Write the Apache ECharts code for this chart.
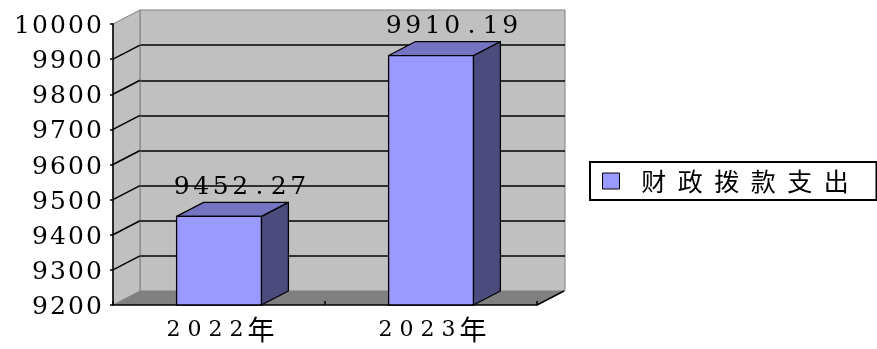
<!DOCTYPE html>
<html>
<head>
<meta charset="utf-8">
<script src="https://cdn.jsdelivr.net/npm/echarts@6/dist/echarts.min.js"></script>
<style>
  html, body { margin: 0; padding: 0; background: #fff; }
  #chart { width: 877px; height: 349px; }
</style>
</head>
<body>
<div id="chart"></div>
<script>
// ---- data ----
const CATEGORIES = ['2022年', '2023年'];
const SERIES_NAME = '财政拨款支出';
const VALUES = [9452.27, 9910.19];
const Y_MIN = 9200;
const Y_MAX = 10000;
const Y_STEP = 100;
const WALL_TICKS = [9300, 9400, 9500, 9600, 9700, 9800, 9900];

// ---- layout / style ----
const DX = 27, DY = -14;                 // depth offset of the pseudo-3D box
const FRONT = { left: 113, top: 24, width: 424, height: 281 };
const BACK = { left: FRONT.left + DX, top: FRONT.top + DY, width: FRONT.width + 1, height: FRONT.height };
const BAR_RATIO = 0.4;
const BAR_FRONT = '#9999ff', BAR_TOP = '#7474c2', BAR_SIDE = '#4b4b7e';
const WALL = '#c0c0c0', FLOOR = '#808080', EDGE = '#808080';
const SERIF = 'DejaVu Serif';
const CJK = 'Noto Sans CJK SC';

// split a string into fixed-pitch rich-text tokens
function spread(text, pick) {
  return text.split('').map(c => `{${pick(c)}|${c}}`).join('');
}

const LABEL_RICH = {
  d: { width: 19.5, align: 'center', fontSize: 25, fontFamily: SERIF, fill: '#000' },
  p: { width: 19, align: 'center', fontSize: 25, fontFamily: SERIF, fill: '#000' }
};

function renderWalls(params, api) {
  const cs = params.coordSys;
  const b = cs.y + cs.height;
  return {
    type: 'group',
    children: [
      { type: 'polygon',
        shape: { points: [[cs.x, cs.y], [cs.x + DX, cs.y + DY], [cs.x + DX, b + DY], [cs.x, b]] },
        style: { fill: WALL, stroke: EDGE, lineWidth: 1 } },
      { type: 'polygon',
        shape: { points: [[cs.x, b], [cs.x + DX, b + DY], [cs.x + cs.width + DX, b + DY], [cs.x + cs.width, b]] },
        style: { fill: FLOOR, stroke: null } },
      { type: 'line',
        shape: { x1: cs.x + cs.width, y1: b, x2: cs.x + cs.width + DX, y2: b + DY },
        style: { stroke: '#000', lineWidth: 1.5 } }
    ]
  };
}

function renderWallTick(params, api) {
  const cs = params.coordSys;
  const p = api.coord([0, api.value(1)]);
  return {
    type: 'line',
    shape: { x1: cs.x, y1: p[1], x2: cs.x + DX, y2: p[1] + DY },
    style: { stroke: '#000', lineWidth: 1.5 }
  };
}

function renderBar(params, api) {
  const idx = api.value(0), val = api.value(1);
  const top = api.coord([idx, val]);
  const base = api.coord([idx, Y_MIN]);
  const bw = api.size([1, 0])[0] * BAR_RATIO;
  const x0 = top[0] - bw / 2, x1 = top[0] + bw / 2;
  const y0 = top[1], y1 = base[1];
  const edge = { stroke: '#000', lineWidth: 1.3, lineJoin: 'round' };
  const text = spread(val.toFixed(2), c => (c === '.' ? 'p' : 'd'));
  return {
    type: 'group',
    children: [
      { type: 'polygon',
        shape: { points: [[x1, y0], [x1 + DX, y0 + DY], [x1 + DX, y1 + DY], [x1, y1]] },
        style: Object.assign({ fill: BAR_SIDE }, edge) },
      { type: 'polygon',
        shape: { points: [[x0, y0], [x0 + DX, y0 + DY], [x1 + DX, y0 + DY], [x1, y0]] },
        style: Object.assign({ fill: BAR_TOP }, edge) },
      { type: 'rect',
        shape: { x: x0, y: y0, width: bw, height: y1 - y0 },
        style: Object.assign({ fill: BAR_FRONT }, edge) },
      { type: 'text',
        x: top[0] + 21, y: y0 + DY - 15,
        style: {
          text: text, align: 'center', verticalAlign: 'middle',
          fontSize: 25, fontFamily: SERIF, rich: LABEL_RICH, fill: '#000'
        } }
    ]
  };
}

const chart = echarts.init(document.getElementById('chart'), null, { renderer: 'canvas' });

chart.setOption({
  animation: false,
  backgroundColor: '#fff',
  grid: [
    Object.assign({ show: true, backgroundColor: WALL, borderColor: EDGE, borderWidth: 1 }, BACK),
    Object.assign({ show: false }, FRONT)
  ],
  legend: {
    data: [SERIES_NAME],
    left: 590, top: 162,
    padding: [5, 22, 5, 12],
    borderColor: '#000', borderWidth: 2,
    backgroundColor: '#fff',
    itemWidth: 17, itemHeight: 16,
    icon: 'rect',
    itemStyle: { borderColor: '#000', borderWidth: 1 },
    formatter: name => '{sp| }' + spread(name, () => 'lg'),
    textStyle: {
      fontSize: 25, fontFamily: CJK, color: '#000', lineHeight: 28,
      rich: {
        sp: { width: 11, fontSize: 25 },
        lg: { width: 36.5, align: 'center', fontSize: 25, fontFamily: CJK, lineHeight: 28, color: '#000' }
      }
    }
  },
  xAxis: [
    { type: 'category', gridIndex: 0, data: CATEGORIES, show: false, z: 1 },
    {
      type: 'category', gridIndex: 1, data: CATEGORIES, z: 3,
      axisLine: { lineStyle: { color: '#000', width: 1.5 } },
      axisTick: { show: true, inside: true, length: 4, lineStyle: { color: '#000', width: 1.5 } },
      axisLabel: {
        interval: 0,
        margin: 12,
        fontSize: 22, fontFamily: SERIF, color: '#000', lineHeight: 26,
        formatter: v => spread(v, c => (c.charCodeAt(0) < 128 ? 'cd' : 'cj')),
        rich: {
          cd: { width: 21, align: 'center', fontSize: 22, fontFamily: SERIF, lineHeight: 26, color: '#000' },
          cj: { width: 28, align: 'center', fontSize: 27, fontFamily: CJK, lineHeight: 26, color: '#000' }
        }
      }
    }
  ],
  yAxis: [
    {
      type: 'value', gridIndex: 0, min: Y_MIN, max: Y_MAX, interval: Y_STEP, z: 1,
      axisLine: { show: false }, axisTick: { show: false }, axisLabel: { show: false },
      splitLine: { show: true, showMinLine: false, showMaxLine: false, lineStyle: { color: '#000', width: 1.5 } }
    },
    {
      type: 'value', gridIndex: 1, min: Y_MIN, max: Y_MAX, interval: Y_STEP, z: 3,
      splitLine: { show: false },
      axisLine: { show: true, lineStyle: { color: '#000', width: 1.5 } },
      axisTick: { show: true, length: 3, lineStyle: { color: '#000', width: 1.5 } },
      axisLabel: {
        margin: 10,
        padding: [5, 0, 0, 0],
        fontSize: 25, fontFamily: SERIF, color: '#000',
        formatter: v => spread(String(v), () => 'yd'),
        rich: {
          yd: { width: 18, align: 'center', fontSize: 25, fontFamily: SERIF, color: '#000' }
        }
      }
    }
  ],
  series: [
    {
      type: 'custom', xAxisIndex: 1, yAxisIndex: 1, z: 2, silent: true,
      encode: { x: 0, y: 1 },
      data: [[0, Y_MIN]],
      renderItem: renderWalls
    },
    {
      type: 'custom', xAxisIndex: 1, yAxisIndex: 1, z: 2, silent: true,
      encode: { x: 0, y: 1 },
      data: WALL_TICKS.map(v => [0, v]),
      renderItem: renderWallTick
    },
    {
      name: SERIES_NAME,
      type: 'custom', xAxisIndex: 1, yAxisIndex: 1, z: 4,
      encode: { x: 0, y: 1 },
      itemStyle: { color: BAR_FRONT },
      data: VALUES.map((v, i) => [i, v]),
      renderItem: renderBar
    }
  ]
});
</script>
</body>
</html>
